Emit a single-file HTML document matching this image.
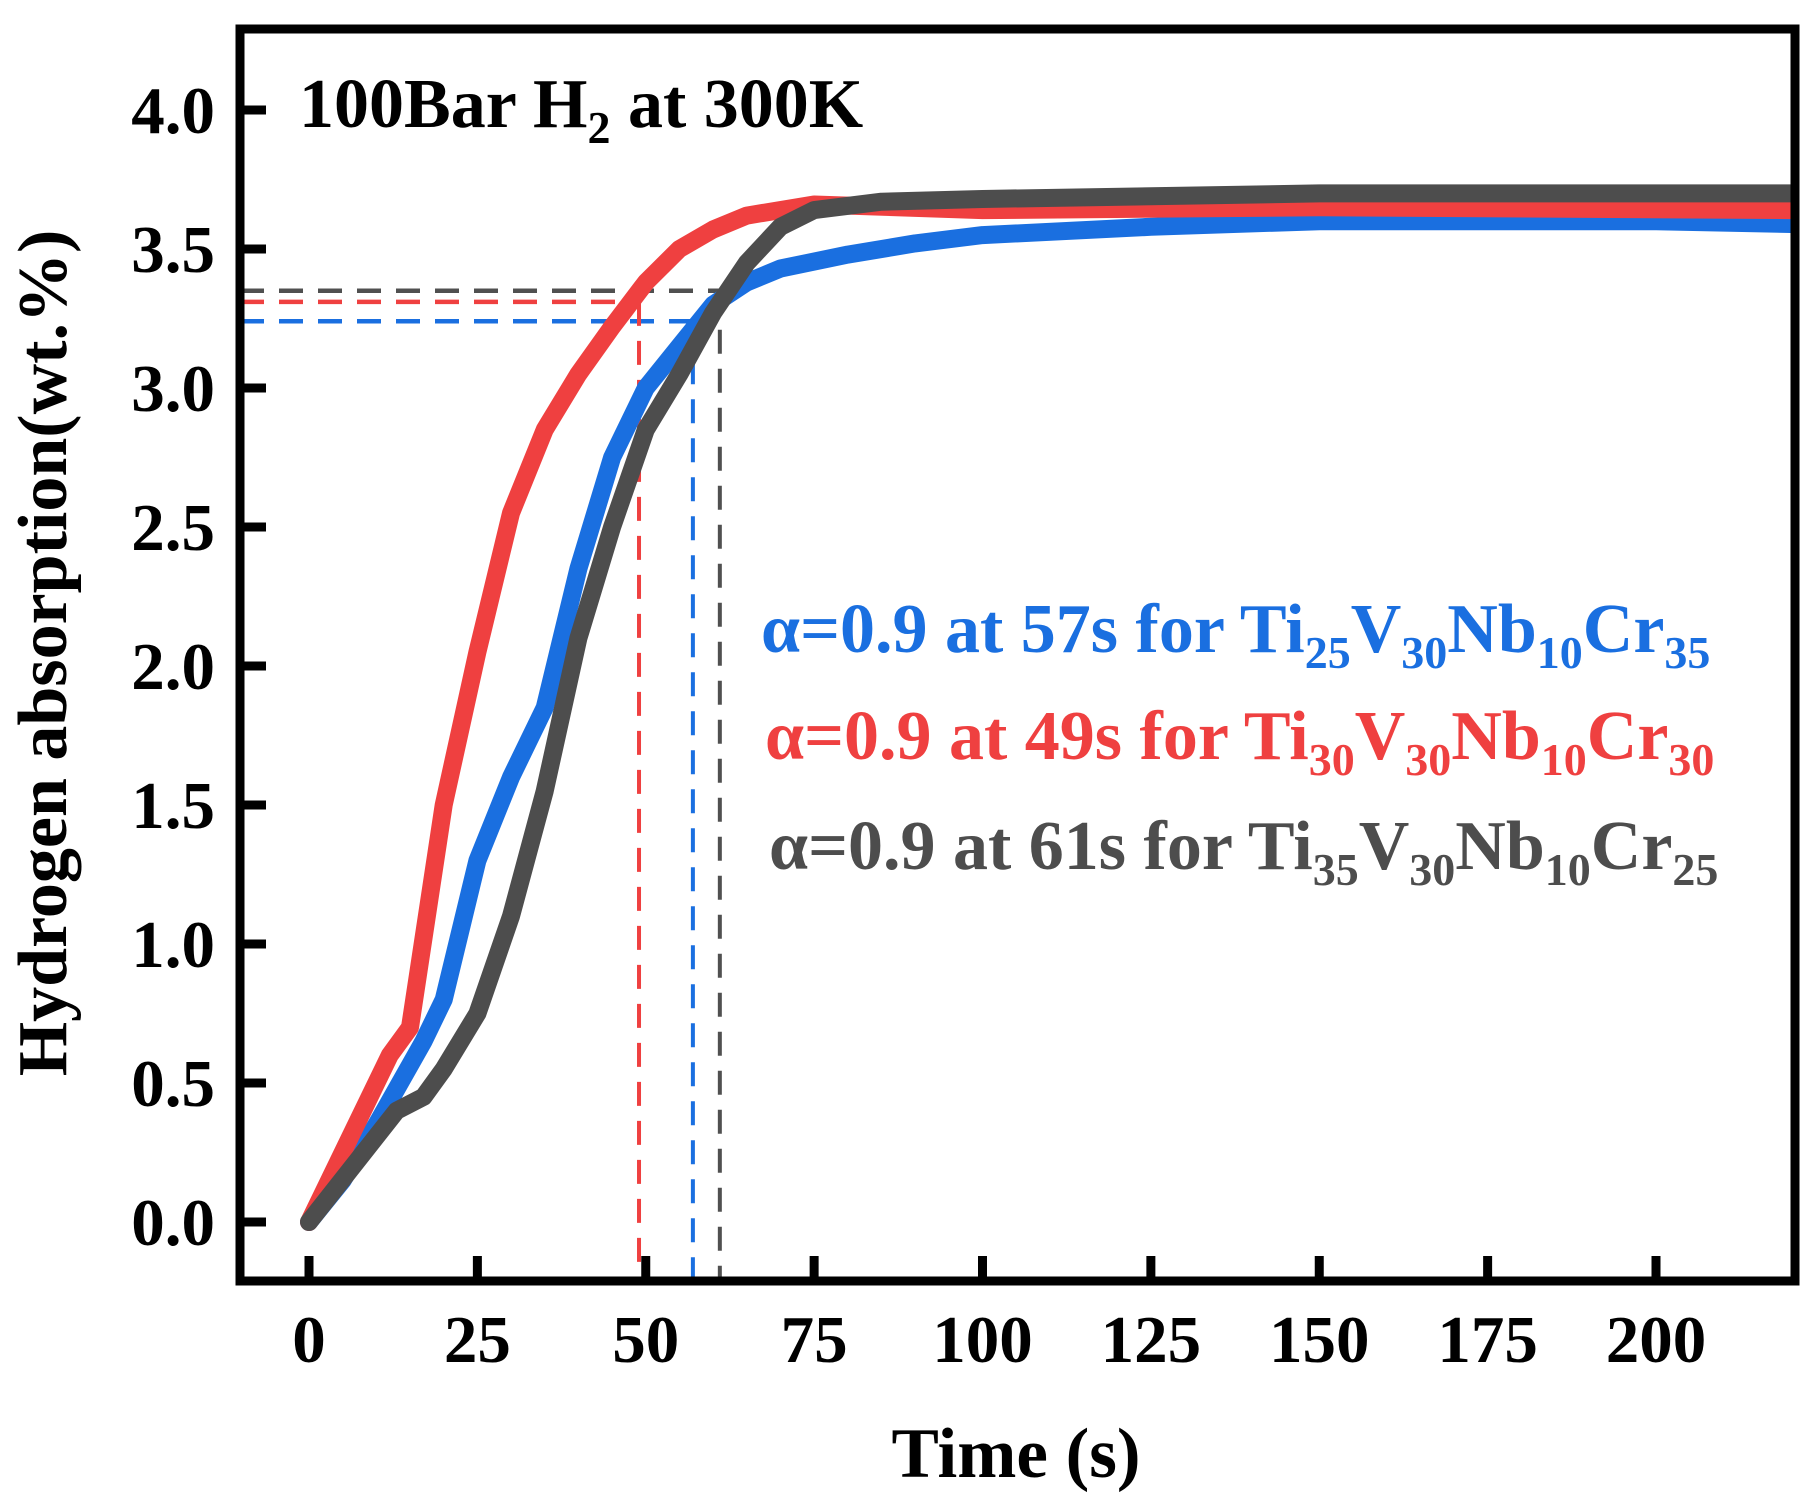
<!DOCTYPE html>
<html><head><meta charset="utf-8"><style>
html,body{margin:0;padding:0;background:#fff}
svg{display:block}
text{font-family:"Liberation Serif",serif;font-weight:bold}
</style></head><body>
<svg id="chart" width="1812" height="1504" viewBox="0 0 1812 1504">
<g id="plot"></g>
</svg>
<script>
const xTicks=[0,25,50,75,100,125,150,175,200];
const yTicks=[0.0,0.5,1.0,1.5,2.0,2.5,3.0,3.5,4.0];
const blueT=[0,5,10,17,20,25,30,35,40,45,50,55,60,65,70,80,90,100,125,150,175,200,220];
const blueV=[0,0.15,0.35,0.65,0.8,1.3,1.6,1.85,2.35,2.75,3.0,3.15,3.3,3.38,3.43,3.48,3.52,3.55,3.58,3.6,3.6,3.6,3.59];
const redT=[0,12,15,20,25,30,35,40,45,50,55,60,65,75,100,150,220];
const redV=[0,0.6,0.7,1.5,2.05,2.55,2.85,3.05,3.22,3.38,3.5,3.57,3.62,3.66,3.64,3.65,3.64];
const grayT=[0,13,17,20,25,30,35,40,45,50,55,60,65,70,75,85,100,150,220];
const grayV=[0,0.4,0.45,0.55,0.75,1.1,1.55,2.1,2.5,2.85,3.05,3.27,3.45,3.58,3.64,3.67,3.68,3.7,3.7];
const markT=[57,49,61];
const markV=[3.24,3.31,3.35];
const markC=["#1a6fe0","#ef4040","#505050"];

const L=240,R=1795,T=29,B=1281;
const X=t=>309+(t/200)*(1656-309);
const Y=v=>1222-(v/4)*(1222-110);
const ns="http://www.w3.org/2000/svg";
const svg=document.getElementById('chart');
function mk(tag,attrs,parent){const e=document.createElementNS(ns,tag);for(const k in attrs)e.setAttribute(k,attrs[k]);(parent||svg).appendChild(e);return e;}

markT.forEach((t,i)=>{
  const h=mk('line',{x1:L,x2:X(t),y1:Y(markV[i]),y2:Y(markV[i]),stroke:markC[i],'stroke-width':4.5,'stroke-dasharray':'24 15'});
  
  
  const v=mk('line',{x1:X(t),x2:X(t),y1:Y(markV[i]),y2:B,stroke:markC[i],'stroke-width':4,'stroke-dasharray':'24 15'});
  
  
});

function curve(ts,vs,color,name){
  const d=ts.map((t,i)=>(i?'L':'M')+X(t).toFixed(1)+','+Y(vs[i]).toFixed(1)).join(' ');
  const p=mk('path',{d:d,fill:'none',stroke:color,'stroke-width':18,'stroke-linejoin':'round','stroke-linecap':'round'});
  
  
}
curve(blueT,blueV,'#1a6fe0','series-ti25');
curve(redT,redV,'#ef4040','series-ti30');
curve(grayT,grayV,'#4d4d4d','series-ti35');

mk('rect',{x:R+4.5,y:0,width:30,height:1504,fill:'#fff'});
const fr=mk('rect',{x:L,y:T,width:R-L,height:B-T,fill:'none',stroke:'#000','stroke-width':9});



xTicks.forEach(t=>{
  const tk=mk('line',{x1:X(t),x2:X(t),y1:B,y2:B-25,stroke:'#000','stroke-width':9});
  
  
  const lb=mk('text',{x:X(t),y:1362,'font-size':67,'text-anchor':'middle'});
  lb.textContent=t;
  
  
});
yTicks.forEach(v=>{
  const tk=mk('line',{x1:L,x2:L+26,y1:Y(v),y2:Y(v),stroke:'#000','stroke-width':9});
  
  
  const lb=mk('text',{x:215,y:Y(v)+23,'font-size':67,'text-anchor':'end'});
  lb.textContent=v.toFixed(1);
  
  
});
</script>
<svg style="position:absolute;left:0;top:0" width="1812" height="1504">
<text x="1016" y="1477" font-size="71" text-anchor="middle">Time (s)</text>
<text transform="translate(66,653) rotate(-90)" font-size="70" text-anchor="middle">Hydrogen absorption(wt.%)</text>
<text x="299" y="127" font-size="70">100Bar H<tspan font-size="46" dy="16">2</tspan><tspan dy="-16"> at 300K</tspan></text>
<text x="761" y="652" font-size="70" fill="#1a6fe0">α=0.9 at 57s for Ti<tspan font-size="46" dy="16">25</tspan><tspan dy="-16">V</tspan><tspan font-size="46" dy="16">30</tspan><tspan dy="-16">Nb</tspan><tspan font-size="46" dy="16">10</tspan><tspan dy="-16">Cr</tspan><tspan font-size="46" dy="16">35</tspan></text>
<text x="765" y="759" font-size="70" fill="#ef4040">α=0.9 at 49s for Ti<tspan font-size="46" dy="16">30</tspan><tspan dy="-16">V</tspan><tspan font-size="46" dy="16">30</tspan><tspan dy="-16">Nb</tspan><tspan font-size="46" dy="16">10</tspan><tspan dy="-16">Cr</tspan><tspan font-size="46" dy="16">30</tspan></text>
<text x="769" y="869" font-size="70" fill="#4d4d4d">α=0.9 at 61s for Ti<tspan font-size="46" dy="16">35</tspan><tspan dy="-16">V</tspan><tspan font-size="46" dy="16">30</tspan><tspan dy="-16">Nb</tspan><tspan font-size="46" dy="16">10</tspan><tspan dy="-16">Cr</tspan><tspan font-size="46" dy="16">25</tspan></text>
</svg>
</body></html>
